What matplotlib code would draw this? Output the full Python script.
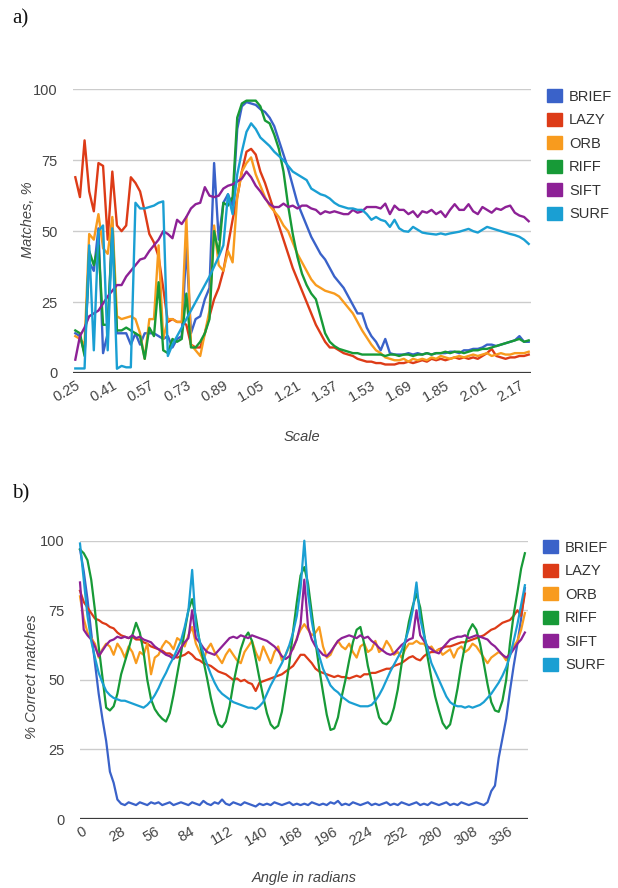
import matplotlib
matplotlib.use("Agg")
import matplotlib.pyplot as plt
import matplotlib.transforms as mtransforms
from matplotlib.patches import Patch
import numpy as np

names = ["BRIEF", "LAZY", "ORB", "RIFF", "SIFT", "SURF"]
colors = ["#3a62c9", "#dd3b17", "#f89b1e", "#179a37", "#8d2196", "#1a9fd3"]

# a) matches vs scale, 0.25 .. 2.21 in steps of 0.02
scale = np.round(0.25 + 0.02 * np.arange(99), 2)
scale_ticks = [0.25, 0.41, 0.57, 0.73, 0.89, 1.05, 1.21, 1.37, 1.53, 1.69, 1.85, 2.01, 2.17]

brief_a = [14, 13, 7, 39, 36, 51, 7, 14, 54, 14,
           14, 14, 10, 14, 10, 14, 14, 14, 13, 12,
           13, 9, 12, 13, 45, 14, 19, 20, 26, 30,
           74, 47, 60, 63, 59, 86, 94, 95.5, 95, 94.5,
           93, 92, 90, 87, 82, 77, 72, 66, 60, 56,
           52, 48, 45, 42, 40, 37, 34, 32, 30, 27,
           24, 21, 21, 16, 13, 11, 8, 12, 7, 6.5,
           6.5, 6.5, 7, 6.5, 7, 6.5, 7, 6.5, 7, 7,
           7, 7.5, 7.5, 7, 8, 8, 8.5, 8.5, 9, 10,
           10, 9.5, 10, 10.5, 11, 11.5, 13, 11, 11]
lazy_a = [69, 62, 82, 64, 57, 74, 73, 47, 71, 52,
          50, 52, 69, 67, 64, 57, 49, 46, 41, 30,
          18, 19, 18, 18, 17, 10, 9, 9, 14, 20,
          26, 30, 36, 45, 54, 62, 71, 78, 79, 77,
          71, 67, 62, 57, 52, 47, 42, 37, 33, 29,
          25, 21, 17, 14, 11, 9, 9, 8, 7, 6.5,
          6, 5, 4.5, 4, 4, 3.5, 3.5, 3, 3, 3,
          3.5, 3.5, 4, 3.5, 4, 4.5, 4, 5, 4.5, 5,
          4.5, 5, 5.5, 5, 5.5, 5, 5.5, 5, 6, 7,
          8.5, 6, 5.5, 5, 5.5, 5.5, 6, 6, 6.5]
orb_a = [13, 12, 10, 49, 47, 56, 44, 42, 55, 20,
         19, 19.5, 20, 19, 14, 5, 19, 19, 45, 12,
         19, 19, 18, 18, 55, 10, 8, 6, 14, 22,
         52, 38, 36, 43, 39, 62, 71, 74, 76, 70,
         66, 62, 59, 57, 55, 52, 50, 46, 42, 39,
         36, 33, 31, 30, 29, 28.5, 28, 27, 25, 23,
         21, 18, 15, 12.5, 10, 8, 7, 5.5, 5, 4.5,
         4.5, 5, 4, 5, 4.5, 5, 4.5, 5.5, 5, 6,
         5.5, 5, 5.5, 6, 5.5, 6, 6.5, 6, 6.5, 7,
         6, 6.5, 7, 6.5, 6.5, 7, 7, 7, 7.5]
riff_a = [15, 14, 6, 43, 38, 45, 17, 17, 50, 15,
          15, 16, 15, 14, 13, 5, 16, 13, 32, 8,
          7, 12, 11, 12, 28, 9, 9, 11, 14, 19,
          50, 42, 60, 59, 62, 90, 95, 96, 96, 96,
          94, 89, 88, 84, 79, 71, 59, 49, 41, 35,
          31, 28, 26, 20, 14, 11, 9.5, 8.5, 8, 7.5,
          7, 7, 6.5, 6.5, 6.5, 6.5, 6.5, 6, 6.5, 6.5,
          6, 6.5, 6.5, 6, 6.5, 6.5, 7, 6.5, 7, 7,
          7.5, 7, 7.5, 7.5, 7, 7.5, 8, 8, 8.5, 8.5,
          9, 9.5, 10, 10.5, 11, 11.5, 12, 11, 11.5]
sift_a = [4.7, 13, 16, 20, 21, 22, 24.5, 27, 29, 31,
          31, 34, 36, 38, 40, 40.5, 43, 45, 47, 50,
          49, 47.5, 54, 52.5, 55, 58, 59.5, 60, 65.5, 62.5,
          62, 62.5, 65, 66, 66.5, 67.5, 68.5, 71, 69, 66,
          64, 61.5, 59.5, 58.5, 58.5, 59.7, 58.5, 59, 58, 59,
          59, 58, 57.5, 56, 57, 56.5, 57, 56.5, 56, 56,
          57.5, 56.5, 57, 58.5, 58.5, 58.5, 58, 59.7, 56, 59,
          57.5, 57.5, 56, 57, 55, 57, 56.5, 57.5, 56, 57,
          55, 57.5, 59.5, 57.5, 57.5, 59.5, 57, 56, 58.5, 57.5,
          56.5, 58, 57.5, 58.5, 59, 56.5, 55.5, 55, 53.5]
surf_a = [1.6, 1.6, 1.6, 45, 8, 50, 52, 8, 51, 1.5,
          2.5, 2, 2, 60, 58, 58, 58.5, 59, 60, 60.5,
          6, 10, 13, 16, 19, 22, 25, 28, 31, 34,
          37.5, 41, 45, 63, 56, 70, 78, 85, 88, 86,
          83, 81.5, 80, 78, 76.5, 75, 73, 71, 70, 69,
          68, 65, 64, 63, 62.5, 61.5, 60, 59, 58.5, 58,
          58, 57.5, 57.5, 56, 54, 55, 54, 53.5, 51.5, 54,
          51, 50, 49.8, 51.5, 50.5, 49.5, 49.2, 49, 48.8, 49.2,
          48.8, 49.2, 49.5, 49.8, 50.3, 50.8, 50, 49.5, 50.5, 51.5,
          51, 50.5, 50, 49.5, 49, 48.6, 48, 47, 45.5]

# b) correct matches vs rotation angle, sampled every 3 degrees
angle = np.arange(0, 360, 3)
angle_ticks = [0, 28, 56, 84, 112, 140, 168, 196, 224, 252, 280, 308, 336]

brief_b = [97, 89, 79, 67, 56, 45, 36, 28, 17, 13,
           7, 5.5, 5, 6, 5.5, 5, 6, 5.5, 5, 6,
           5.5, 6, 5, 5.5, 6, 5, 5.5, 6, 5.5, 5,
           6, 5.5, 5, 6.5, 5.5, 5, 6, 5.5, 7, 5.5,
           5, 6, 5.5, 5, 6, 5.5, 5, 4.5, 5.5, 5,
           5.5, 5, 6, 5.5, 5, 5.5, 6, 5, 5.5, 5,
           5.5, 5, 6, 5.5, 5, 5.5, 5, 6, 5.5, 6.5,
           5, 5.5, 5, 6, 5.5, 5, 5.5, 6, 5, 5.5,
           5, 5.5, 6, 5, 5.5, 5, 6, 5.5, 5, 5.5,
           6, 5, 5.5, 5, 6, 5.5, 5, 5.5, 6, 5,
           5.5, 5, 6, 5.5, 5, 5.5, 6, 5.5, 5, 6,
           10, 12, 22, 29, 36, 46, 55, 63, 72, 83]
lazy_b = [82, 78, 76, 74, 72, 71.5, 70.5, 70, 69, 68.5,
          67, 66, 65.5, 65, 65.5, 64.5, 64.5, 63.5, 63, 62,
          61.5, 61, 60.5, 59.5, 59.5, 58.5, 58, 58.5, 59, 60,
          59, 57.5, 57, 56, 55.5, 55, 54, 53, 52.5, 52,
          51, 50, 50.5, 49.5, 50, 49, 48.5, 46, 49, 49.5,
          50, 50.5, 51, 51.5, 52, 53, 54, 55, 57, 59,
          59, 57.5, 56, 54, 53, 52.5, 52, 51.5, 51, 51.5,
          51, 51, 50.5, 51, 51.5, 51, 52, 52, 52.5, 52.5,
          53, 53.5, 54, 54, 55, 55.5, 56, 57, 58, 58.5,
          57.5, 57, 58.5, 59.5, 60, 60, 61, 61.5, 62, 62,
          62.5, 63, 63.5, 63.5, 64, 64.5, 65, 65.5, 66, 67,
          68, 68.5, 69.5, 70.5, 71, 71.5, 73, 75, 73, 81]
orb_b = [80, 72, 67, 65, 63, 58, 61, 63, 62, 59,
         63, 61, 58, 62, 60, 56, 60, 59, 63, 52,
         58, 59, 62, 64, 63, 61, 65, 64, 62, 66,
         69, 63, 60, 57, 61, 63, 60, 58, 56, 59,
         61, 59, 57, 56, 60, 62, 64, 60, 57, 62,
         59, 56, 60, 62, 57, 59, 62, 61, 65, 68,
         70, 68, 66, 67, 69, 62, 58, 59, 62, 64,
         62, 61, 63, 60, 58, 62, 63, 60, 61, 64,
         60, 61, 64, 62, 59, 60, 58, 61, 63, 63,
         64, 63, 63, 61, 62, 60, 61, 59, 60, 61,
         58, 61, 62, 60, 61, 63, 62, 60, 58, 56,
         58, 59, 60, 59, 57, 60, 62, 64, 68, 74]
riff_b = [96.8, 95.5, 93, 86, 75, 62, 51, 40, 39, 40.5,
          45, 52, 56.5, 61, 66, 70.5, 67, 60, 50, 43,
          39.5, 37.5, 36, 35, 38, 44.5, 52, 59.5, 67.5, 75,
          79, 72.5, 63.5, 57, 50.5, 43.5, 38, 34, 33, 35,
          40.5, 48.5, 55, 61, 65, 67, 64, 57.5, 50.5, 44,
          38, 34, 32.5, 33.5, 38.5, 47, 56, 67.5, 78, 87.5,
          90.5, 84.5, 74, 63.5, 54, 45.5, 37.5, 32, 32.5, 36.5,
          44, 50, 57, 63.5, 68, 69, 63, 55, 49.5, 42,
          36.5, 34.5, 34, 35.5, 40, 46.5, 55.5, 63.5, 71, 76.5,
          81, 76, 67, 58, 50.5, 44, 39, 34.5, 32.5, 34,
          40, 47, 55.5, 62.5, 67.5, 70, 68, 63, 56, 48.5,
          42, 39, 38.5, 42.5, 50, 63, 73.5, 81.5, 90, 95.5]
sift_b = [85, 68, 66, 64.5, 62, 58.5, 60.5, 62.5, 64, 64.5,
          65.5, 65, 65.5, 65, 66, 65, 65.5, 64.5, 64, 63.5,
          62, 61, 60, 59, 58.5, 57.5, 59, 61.5, 63.5, 65,
          75, 65, 63.5, 61.5, 60, 59.5, 59, 60.5, 62, 63.5,
          65, 65.5, 65, 66, 65.5, 65, 66, 65.5, 65, 64.5,
          64, 63, 62, 60.5, 58.5, 57.5, 58.5, 61.5, 64.5, 70,
          86, 69, 64.5, 62, 60.5, 59, 58.5, 60, 62, 64,
          65, 65.5, 66, 65.5, 65, 66, 65, 65.5, 64, 63,
          61.5, 60.5, 59.5, 59, 59.5, 61, 62.5, 63.5, 64.5, 65,
          75, 66, 64, 62, 61, 60, 59.5, 61.5, 63, 64.5,
          65, 65.5, 65.5, 66, 65, 65.5, 66, 65.5, 65, 64.5,
          63, 62, 60.5, 59, 58, 59, 61, 63, 64.5, 67]
surf_b = [99, 86, 73, 64, 58, 52.5, 49, 46, 44.5, 43.5,
          43, 42.5, 42.5, 42, 41.5, 41, 40.5, 40, 41, 42.5,
          44.5, 47, 50, 52.5, 55.5, 58, 61, 64, 69, 75,
          89.5, 69.5, 64, 59.5, 55.5, 52, 49, 46.5, 45, 44,
          43, 42, 41.5, 41, 40.5, 40, 40, 39.5, 40.5, 42,
          45, 48, 50.5, 53.5, 56, 59, 62.5, 67, 73, 83,
          100, 81, 71, 63.5, 58.5, 54, 51, 48, 46.5, 45.5,
          44, 43, 42, 41.5, 41, 40.5, 40.5, 40.5, 41, 42.5,
          44.5, 47, 50, 53, 55.5, 58, 60.5, 64, 68.5, 75,
          85, 72, 66, 61, 56, 53, 50, 47, 44, 42,
          41, 40.5, 40.5, 40, 40.5, 40, 40.5, 41, 42, 43.5,
          45, 47, 49, 51.5, 54.5, 58.5, 64, 70, 77, 84]

W, H = 618, 888
plt.rcParams["font.family"] = ["Liberation Sans", "DejaVu Sans"]
fig = plt.figure(figsize=(W / 100, H / 100), dpi=100)


def box(l, t, r, b):
    return [l / W, 1 - b / H, (r - l) / W, (b - t) / H]


def style(ax, ticks, labels, xlim, shift):
    ax.set_ylim(0, 100)
    ax.set_xlim(*xlim)
    ax.set_yticks([0, 25, 50, 75, 100])
    ax.set_xticks(ticks)
    ax.set_xticklabels([])
    # slanted category labels, nudged sideways like the original
    off = mtransforms.ScaledTranslation(shift / 100, -5 / 100, fig.dpi_scale_trans)
    for t, lab in zip(ticks, labels):
        ax.text(t, 0, lab, transform=ax.get_xaxis_transform() + off,
                rotation=30, ha="center", va="top", fontsize=10.5, color="#444444")
    for s in ax.spines.values():
        s.set_visible(False)
    ax.grid(axis="y", color="#cccccc", lw=1.0)
    ax.set_axisbelow(True)
    ax.axhline(0, color="#3a3a3a", lw=1.6, zorder=1)
    ax.tick_params(length=0, labelsize=10.5, colors="#444444")
    ax.tick_params(axis="y", pad=11)


ax1 = fig.add_axes(box(73, 89.3, 531, 373))
for vals, c in zip([brief_a, lazy_a, orb_a, riff_a, sift_a, surf_a], colors):
    ax1.plot(scale, vals, color=c, lw=1.7, clip_on=False, zorder=3)
style(ax1, scale_ticks, [f"{t:.2f}" for t in scale_ticks], (0.24, 2.22), -9)

ax2 = fig.add_axes(box(80, 540.7, 528, 819))
for vals, c in zip([brief_b, lazy_b, orb_b, riff_b, sift_b, surf_b], colors):
    ax2.plot(angle, vals, color=c, lw=1.6, clip_on=False, zorder=3)
style(ax2, angle_ticks, [str(t) for t in angle_ticks], (0, 359.5), 2)

handles = [Patch(color=c) for c in colors]
for ax, top, left in [(ax1, 89, 547), (ax2, 540, 543)]:
    ax.legend(handles, names, loc="upper left", frameon=False,
              bbox_to_anchor=(left / W, 1 - top / H), bbox_transform=fig.transFigure,
              fontsize=10.5, handlelength=1.0, handleheight=1.0,
              handletextpad=0.5, labelspacing=0.62, borderpad=0, borderaxespad=0,
              labelcolor="#333333")

ital = dict(style="italic", color="#444444", fontsize=10.5, ha="center", va="center")
fig.text(28 / W, 1 - 220 / H, "Matches, %", rotation=90, **ital)
fig.text(302 / W, 1 - 437 / H, "Scale", **ital)
fig.text(32 / W, 1 - 677 / H, "% Correct matches", rotation=90, **ital)
fig.text(304 / W, 1 - 878 / H, "Angle in radians", **ital)

serif = dict(family=["Liberation Serif", "DejaVu Serif"], fontsize=15, color="#111111", va="center")
fig.text(12 / W, 1 - 19 / H, "a)", **serif)
fig.text(12 / W, 1 - 494 / H, "b)", **serif)

fig.savefig("out.png", dpi=100)
